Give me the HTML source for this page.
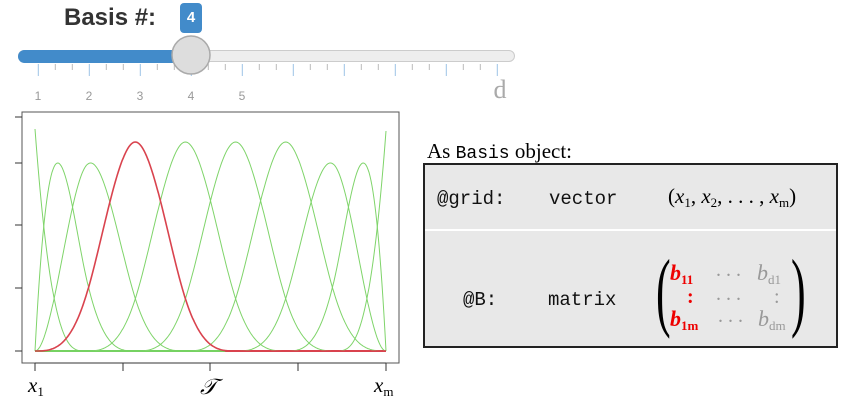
<!DOCTYPE html>
<html><head><meta charset="utf-8"><style>
body{margin:0;width:846px;height:402px;background:#fff;position:relative;overflow:hidden;font-family:"Liberation Sans",sans-serif}
.a{position:absolute;white-space:nowrap}
.m{font-family:"Liberation Mono",monospace;font-size:19px;color:#111}
.s{font-family:"Liberation Serif",serif}
.r{color:#e00;font-weight:bold;font-style:italic}
.g{color:#999;font-style:italic}
sub{font-size:13px;font-style:normal;vertical-align:-4px}
</style></head><body>
<div class="a" style="left:64px;top:4px;font-size:24px;font-weight:bold;color:#333">Basis #:</div>
<div class="a" style="left:180px;top:3px;width:22px;height:30px;background:#428bca;border-radius:4px;color:#fff;font-weight:bold;font-size:15px;text-align:center;line-height:30px">4</div>
<div class="a" style="left:18px;top:50px;width:497px;height:12px;background:#eee;border:1px solid #ccc;border-radius:7px;box-sizing:border-box"></div>
<div class="a" style="left:18px;top:50px;width:175px;height:13px;background:#428bca;border-radius:7px 0 0 7px"></div>
<svg class="a" style="left:0;top:0" width="520" height="110">
<g id="ticks"></g>
<g fill="#999" font-size="12" font-family="Liberation Sans" text-anchor="middle">
<text x="38" y="100">1</text><text x="89" y="100">2</text><text x="140" y="100">3</text><text x="191" y="100">4</text><text x="242" y="100">5</text></g>
<text x="500" y="98" fill="#aaa" font-size="26" font-family="Liberation Serif" text-anchor="middle">d</text>
<circle cx="191" cy="55" r="19" fill="#ddd" stroke="#aaa" stroke-width="1.5"/>
</svg>
<svg class="a" style="left:0;top:105px" width="420" height="297" id="plot">
<rect x="22" y="7" width="377" height="251" fill="none" stroke="#555" stroke-width="1"/>
<g stroke="#333" stroke-width="1">
<line x1="15" y1="12" x2="22" y2="12"/><line x1="15" y1="58" x2="22" y2="58"/><line x1="15" y1="120" x2="22" y2="120"/><line x1="15" y1="183" x2="22" y2="183"/><line x1="15" y1="246" x2="22" y2="246"/>
<line x1="35" y1="258" x2="386" y2="258"/>
<line x1="35" y1="258" x2="35" y2="266"/><line x1="123" y1="258" x2="123" y2="266"/><line x1="210" y1="258" x2="210" y2="266"/><line x1="298" y1="258" x2="298" y2="266"/><line x1="386" y1="258" x2="386" y2="266"/>
</g>
<g id="curves"></g>
<text x="28" y="287" font-size="21" font-style="italic" font-family="Liberation Serif">x<tspan font-size="13" font-style="normal" dy="4">1</tspan></text>
<text x="200" y="289" font-size="22" font-style="italic" font-family="Liberation Serif">𝒯</text>
<text x="374" y="287" font-size="21" font-style="italic" font-family="Liberation Serif">x<tspan font-size="13" font-style="normal" dy="4">m</tspan></text>
</svg>
<div class="a s" style="left:427px;top:139px;font-size:21px">As <span style="font-family:'Liberation Mono',monospace;font-size:18px">Basis</span> object:</div>
<div class="a" style="left:423px;top:163px;width:415px;height:185px;background:#e8e8e8;border:2px solid #222;box-sizing:border-box"></div>
<div class="a" style="left:425px;top:229px;width:411px;height:2px;background:#fff"></div>
<div class="a m" style="left:437px;top:188px">@grid:</div>
<div class="a m" style="left:549px;top:188px">vector</div>
<div class="a s" style="left:668px;top:184px;font-size:21px">(<i>x</i><sub>1</sub>, <i>x</i><sub>2</sub>, . . . , <i>x</i><sub>m</sub>)</div>
<div class="a m" style="left:463px;top:289px">@B:</div>
<div class="a m" style="left:548px;top:289px">matrix</div>
<div class="a s" style="left:656px;top:252px;font-size:88px;transform:scaleX(0.5);transform-origin:left top;line-height:80px">(</div>
<div class="a s" style="left:791px;top:252px;font-size:88px;transform:scaleX(0.5);transform-origin:left top;line-height:80px">)</div>
<div class="a s r" style="left:670px;top:260px;font-size:22px">b<sub>11</sub></div>
<div class="a s g" style="left:716px;top:259px;font-size:20px;font-style:normal">. . .</div>
<div class="a s g" style="left:757px;top:260px;font-size:22px">b<sub>d1</sub></div>
<div class="a s r" style="left:687px;top:286px;font-size:20px;font-style:normal">:</div>
<div class="a s g" style="left:716px;top:283px;font-size:20px;font-style:normal">. . .</div>
<div class="a s g" style="left:774px;top:286px;font-size:20px;font-style:normal">:</div>
<div class="a s r" style="left:670px;top:306px;font-size:22px">b<sub>1m</sub></div>
<div class="a s g" style="left:718px;top:305px;font-size:20px;font-style:normal">. . .</div>
<div class="a s g" style="left:758px;top:306px;font-size:22px">b<sub>dm</sub></div>
<script>
(function(){
var t=document.getElementById('ticks'),s='';
for(var i=0;i<28;i++){var x=38.3+i*17;var maj=i%3==0;if(x>500)break;
s+='<line x1="'+x+'" y1="64" x2="'+x+'" y2="'+(maj?76:70)+'" stroke="'+(maj?'#9cc3e6':'#bbb')+'" stroke-width="1"/>';}
t.innerHTML=s;
var K=[0,0,0,0,1,2,3,4,5,6,7,7,7,7];
function N(i,p,u){if(p==0){return (u>=K[i]&&u<K[i+1])||(u==7&&K[i+1]==7&&K[i]<7)?1:0;}
var a=0,b=0;if(K[i+p]>K[i])a=(u-K[i])/(K[i+p]-K[i])*N(i,p-1,u);
if(K[i+p+1]>K[i+1])b=(K[i+p+1]-u)/(K[i+p+1]-K[i+1])*N(i+1,p-1,u);return a+b;}
var peaks=[24,58,58,37,37,37,37,58,58,26],base=246,x0=35,x1=386;
var out='';
for(var j=0;j<10;j++){var pts=[],mx=0,vals=[];
for(var k=0;k<=350;k++){var u=k/50;var v=N(j,3,Math.min(u,7));vals.push(v);if(v>mx)mx=v;}
for(var k=0;k<=350;k++){var x=x0+(x1-x0)*k/350;var y=base-(base-peaks[j])*vals[k]/mx;pts.push(x.toFixed(1)+','+y.toFixed(1));}
var red=j==3;
out+='<polyline points="'+pts.join(' ')+'" fill="none" stroke="'+(red?'#d9434e':'#7fd46a')+'" stroke-width="'+(red?1.6:1)+'"/>';
if(j==3){out+='<line x1="'+x0+'" y1="'+base+'" x2="225" y2="'+base+'" stroke="#6ccf5a" stroke-width="2"/><line x1="225" y1="'+base+'" x2="'+x1+'" y2="'+base+'" stroke="#d9434e" stroke-width="2"/>';}
}
var c=document.getElementById('curves');
c.innerHTML=out;
var r=c.children[3];c.appendChild(r);
})();
</script>
</body></html>
